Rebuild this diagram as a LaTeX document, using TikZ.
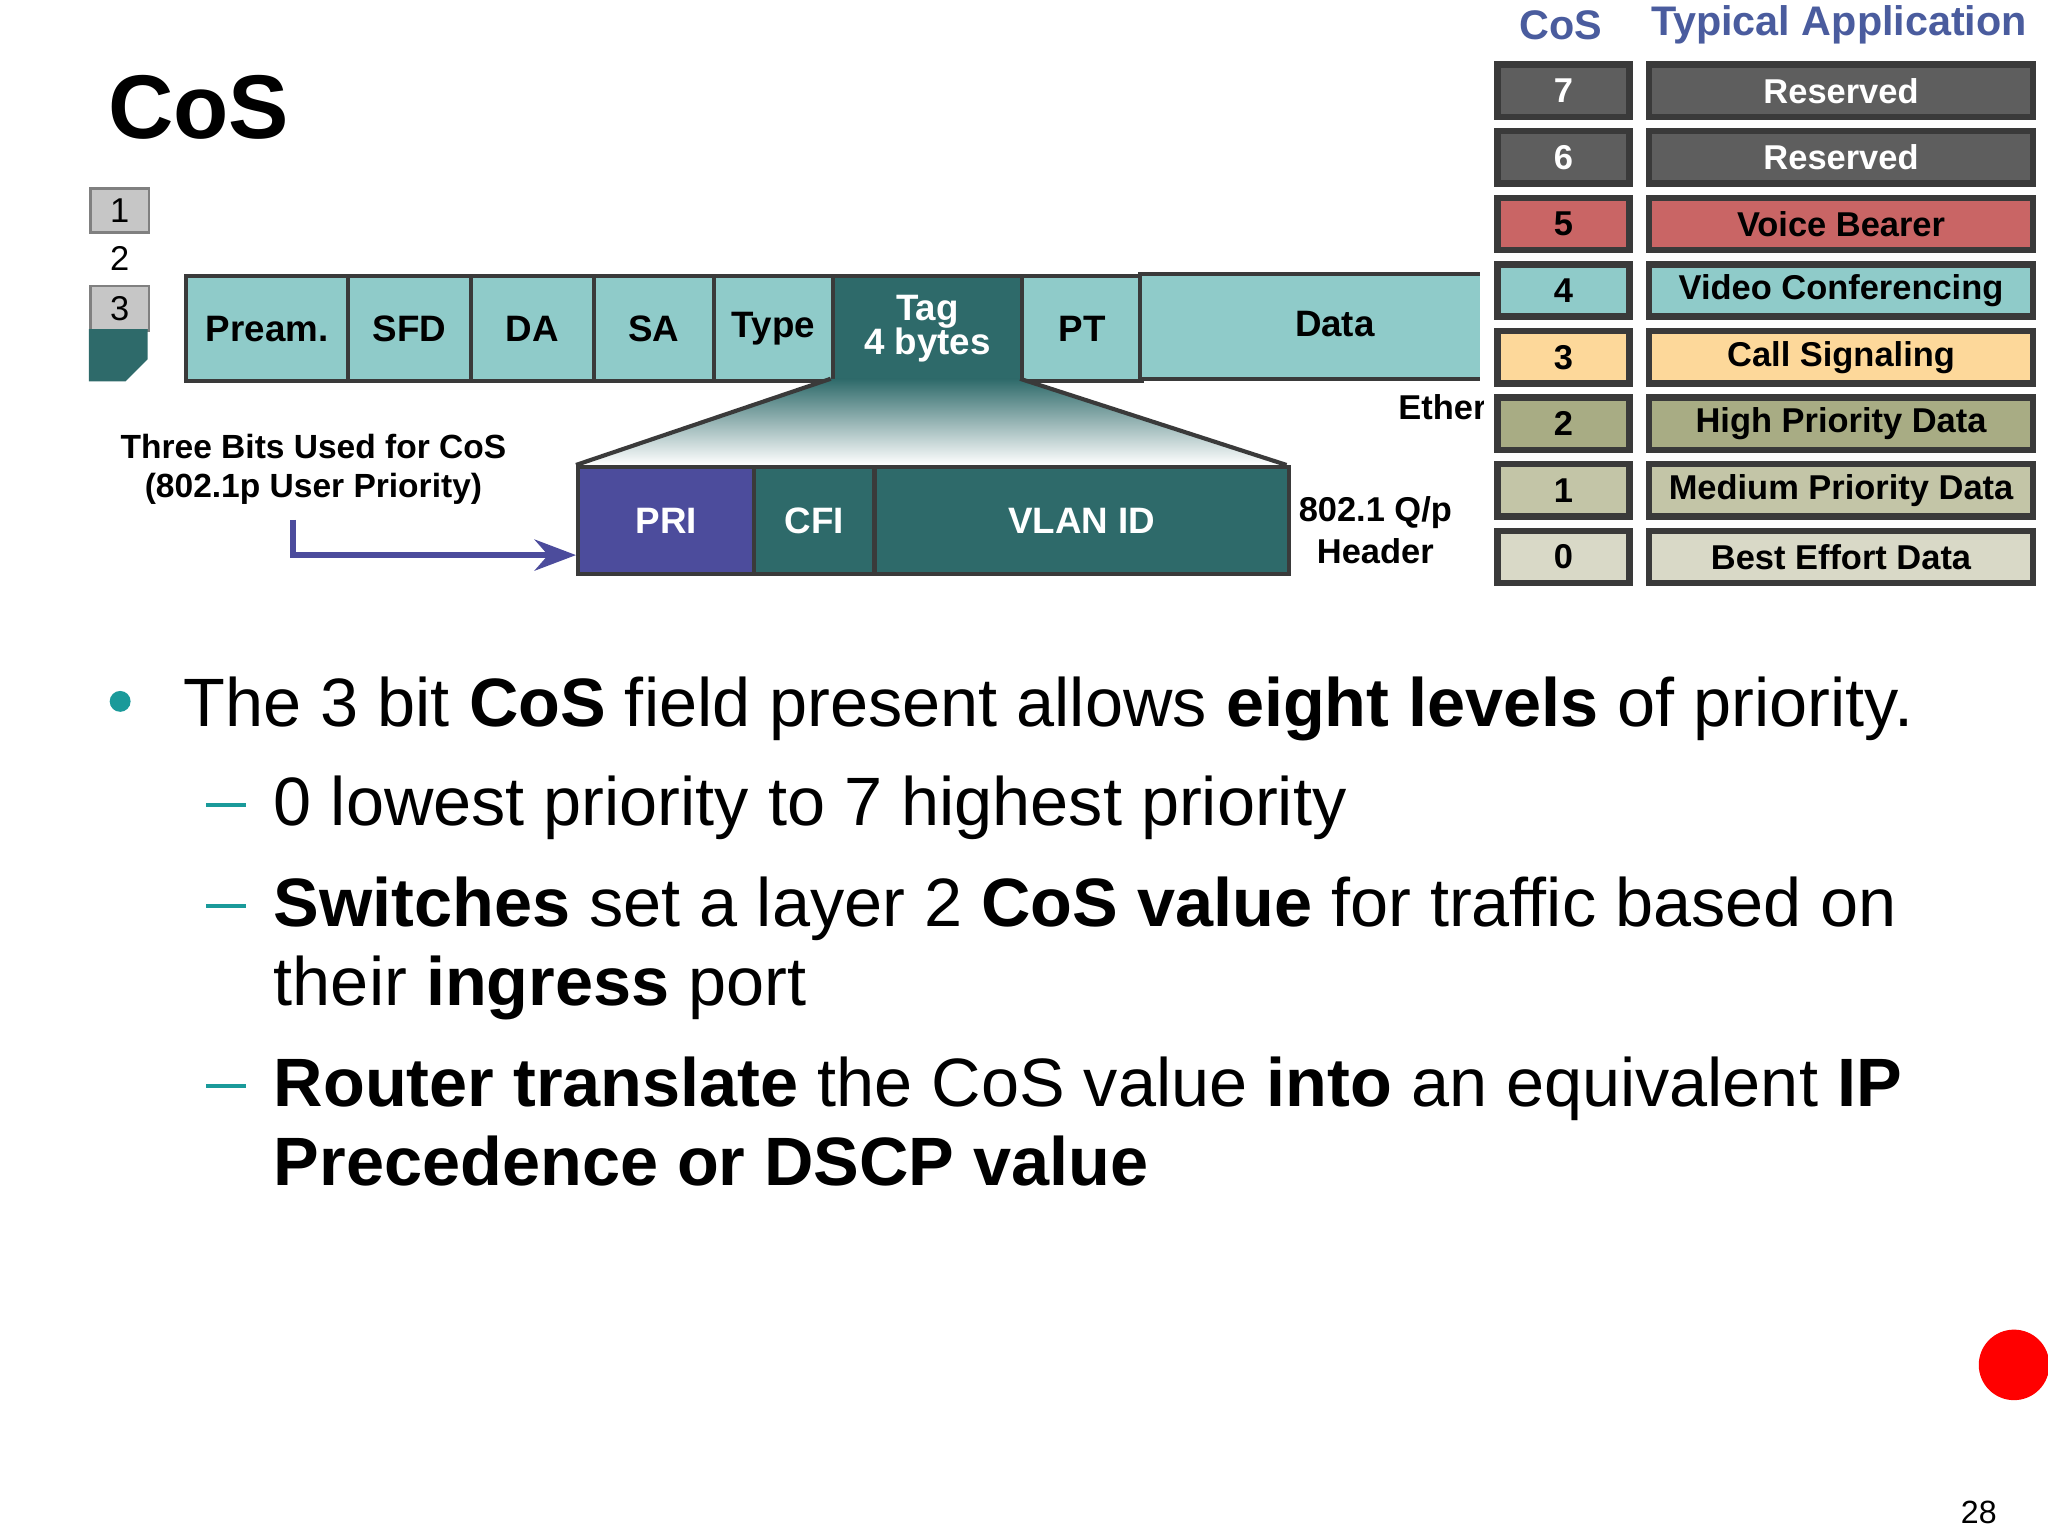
\documentclass[tikz,border=0pt]{standalone}
\usepackage{fontspec}
\setmainfont{Liberation Sans}
\usetikzlibrary{arrows.meta}
\definecolor{lteal}{HTML}{8FCBC9}
\definecolor{dteal}{HTML}{2E6A6A}
\definecolor{purp}{HTML}{4C4C9C}
\definecolor{hdr}{HTML}{4A5C9E}
\definecolor{bord}{HTML}{3A3A3A}
\definecolor{cg}{HTML}{5E5E5E}
\definecolor{cr}{HTML}{C96565}
\definecolor{cy}{HTML}{FDD89A}
\definecolor{co}{HTML}{A8AC84}
\definecolor{cl}{HTML}{C3C5A7}
\definecolor{cw}{HTML}{D9D9C7}
\definecolor{bul}{HTML}{1A9A9A}
\tikzset{
 cell/.style={draw=bord,line width=0.9pt,inner sep=0pt,font=\fontsize{8}{9.5}\selectfont\bfseries,align=center},
 tcell/.style={draw=bord,line width=1.4pt,inner sep=0pt,minimum height=4mm,font=\fontsize{7.5}{9}\selectfont\bfseries},
 small/.style={draw=gray,line width=0.6pt,inner sep=0pt,minimum width=4.5mm,minimum height=3.4mm,font=\fontsize{7.5}{9}\selectfont},
 btext/.style={anchor=base west,font=\fontsize{14.9}{17}\selectfont,inner sep=0pt}
}
\begin{document}
\begin{tikzpicture}[x=0.01cm,y=-0.01cm]
\useasboundingbox (0,0) rectangle (1568,1176);
\fill[white] (0,0) rectangle (1568,1176);
\node[font=\fontsize{19.7}{24}\selectfont\bfseries,anchor=west,inner sep=0pt] (title) at (82,82) {CoS};
% left small stack
\node[small,fill=gray!45,anchor=north west] (s1) at (68,143) {1};
\node[small,fill=white,draw=white,anchor=north west] (s2) at (68,180) {2};
\node[small,fill=gray!45,anchor=north west] (s3) at (68,218) {3};
\fill[dteal] (68,252) -- (113,252) -- (113,275) -- (96,292) -- (68,292) -- cycle;
% frame row
\foreach \a/\b/\t/\n in {141/265/Pream./pream,265/359/SFD/sfd,359/453/DA/da,453/545/SA/sa,545/636/Type/type,781/873/PT/pt}{
 \pgfmathsetmacro\w{(\b-\a)/10}
 \node[cell,fill=lteal,minimum width=\w mm,minimum height=8mm,anchor=north west] (\n) at (\a,210) {\t};}
\node[cell,fill=dteal,text=white,minimum width=14.5mm,minimum height=8mm,anchor=north west] (tag) at (636,210) {Tag\\[-2pt]4 bytes};
\fill[lteal] (873,210) rectangle (1133,290);
\draw[bord,line width=0.9pt] (1133,210) -- (873,210) -- (873,290) -- (1133,290);
\node[font=\fontsize{8}{10}\selectfont\bfseries] (data) at (1022,248) {Data};
\begin{scope}
\clip (1000,295) rectangle (1136,330);
\node[font=\fontsize{7.5}{10}\selectfont\bfseries,anchor=west,inner sep=0pt] (ether) at (1070,312) {Ethernet};
\end{scope}
% trapezoid
\shade[top color=dteal,bottom color=white] (636,290) -- (781,290) -- (985,356) -- (441,356) -- cycle;
\draw[bord,line width=0.9pt] (636,290) -- (441,356) (781,290) -- (985,356);
% tag fields
\node[cell,fill=purp,text=white,minimum width=13.5mm,minimum height=8.2mm,anchor=north west] (pri) at (441,356) {PRI};
\node[cell,fill=dteal,text=white,minimum width=9.2mm,minimum height=8.2mm,anchor=north west] (cfi) at (576,356) {CFI};
\node[cell,fill=dteal,text=white,minimum width=31.7mm,minimum height=8.2mm,anchor=north west] (vlan) at (668,356) {VLAN ID};
\node[font=\fontsize{7.5}{9}\selectfont\bfseries,align=center] (hdrlbl) at (1053,406) {802.1 Q/p\\Header};
\node[font=\fontsize{7.3}{8.5}\selectfont\bfseries,align=center] (three) at (240,359) {Three Bits Used for CoS\\(802.1p User Priority)};
\coordinate (arr0) at (224,398);
\draw[purp,line width=1.3pt,-{Stealth[length=9pt]}] (arr0) -- (224,425) -- (pri.west |- 0,425);
% table
\node[text=hdr,font=\fontsize{9}{11}\selectfont\bfseries] (hcos) at (1195,19) {CoS};
\node[text=hdr,font=\fontsize{9}{11}\selectfont\bfseries] (happ) at (1408,19) {Typical Application};
\foreach \i/\c/\tc/\app [count=\k from 0] in {7/cg/white/Reserved,6/cg/white/Reserved,5/cr/black/Voice Bearer,4/lteal/black/Video Conferencing,3/cy/black/Call Signaling,2/co/black/High Priority Data,1/cl/black/Medium Priority Data,0/cw/black/Best Effort Data}{
 \pgfmathsetmacro\yy{47+51*\k}
 \node[tcell,fill=\c,text=\tc,minimum width=10.1mm,anchor=north west] (c\i) at (1144,\yy) {\i};
 \node[tcell,fill=\c,text=\tc,minimum width=29.4mm,anchor=north west] (a\i) at (1260,\yy) {\app};}
% bullets
\fill[bul] (92,537) circle (8);
\node[btext] (b1) at (140,556) {The 3 bit \textbf{CoS} field present allows \textbf{eight levels} of priority.};
\foreach \yy in {615,692,830}{\fill[bul] (158,\yy) rectangle (188,\yy+3);}
\node[btext] (b2) at (209,632) {0 lowest priority to 7 highest priority};
\node[btext] (b3a) at (209,709) {\textbf{Switches} set a layer 2 \textbf{CoS value} for traffic based on};
\node[btext] (b3b) at (209,770) {their \textbf{ingress} port};
\node[btext] (b4a) at (209,847) {\textbf{Router translate} the CoS value \textbf{into} an equivalent \textbf{IP}};
\node[btext] (b4b) at (209,908) {\textbf{Precedence or DSCP value}};
\fill[red] (1542,1045) circle (27);
\node[font=\fontsize{7}{8}\selectfont] (pg) at (1515,1158) {28};
\end{tikzpicture}
\end{document}
